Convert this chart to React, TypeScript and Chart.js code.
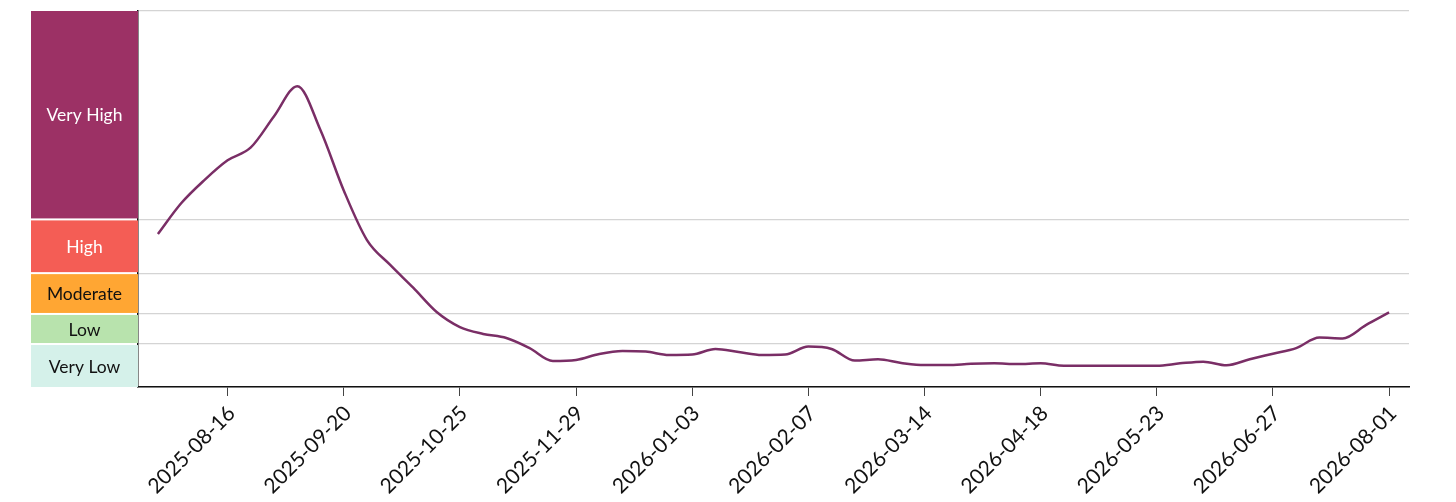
import React, { useEffect, useRef } from "react";
import { Chart, registerables } from "chart.js";

Chart.register(...registerables);

// ---- data ----
const DATES: string[] = [
  "2025-07-26", "2025-08-02", "2025-08-09", "2025-08-16", "2025-08-23", "2025-08-30",
  "2025-09-06", "2025-09-13", "2025-09-20", "2025-09-27", "2025-10-04", "2025-10-11",
  "2025-10-18", "2025-10-25", "2025-11-01", "2025-11-08", "2025-11-15", "2025-11-22",
  "2025-11-29", "2025-12-06", "2025-12-13", "2025-12-20", "2025-12-27", "2026-01-03",
  "2026-01-10", "2026-01-17", "2026-01-24", "2026-01-31", "2026-02-07", "2026-02-14",
  "2026-02-21", "2026-02-28", "2026-03-07", "2026-03-14", "2026-03-21", "2026-03-28",
  "2026-04-04", "2026-04-11", "2026-04-18", "2026-04-25", "2026-05-02", "2026-05-09",
  "2026-05-16", "2026-05-23", "2026-05-30", "2026-06-06", "2026-06-13", "2026-06-20",
  "2026-06-27", "2026-07-04", "2026-07-11", "2026-07-18", "2026-07-25", "2026-08-01",
];

const VALUES: number[] = [
  7.12, 8.55, 9.63, 10.55, 11.15, 12.6,
  14.0, 11.95, 9.15, 6.84, 5.68, 4.61,
  3.49, 2.79, 2.47, 2.28, 1.81, 1.21,
  1.26, 1.54, 1.68, 1.65, 1.49, 1.51,
  1.77, 1.63, 1.49, 1.51, 1.88, 1.77,
  1.23, 1.29, 1.12, 1.02, 1.02, 1.08,
  1.1, 1.07, 1.1, 0.99, 0.99, 0.99,
  0.99, 0.99, 1.1, 1.18, 1.01, 1.29,
  1.55, 1.81, 2.3, 2.26, 2.88, 3.47,
];

const TICK_LABELS: string[] = [
  "2025-08-16", "2025-09-20", "2025-10-25", "2025-11-29", "2026-01-03", "2026-02-07",
  "2026-03-14", "2026-04-18", "2026-05-23", "2026-06-27", "2026-08-01",
];

const LEVEL_LABELS: string[] = ["Very Low", "Low", "Moderate", "High", "Very High"];
const LEVEL_BOUNDS: number[] = [0, 2, 3.4, 5.3, 7.8, 17.5];

// ---- styles ----
const LEVEL_COLORS = ["#d5f1ea", "#b8e3ad", "#ffa633", "#f45d55", "#9c3165"];
const LEVEL_TEXT = ["#111111", "#111111", "#111111", "#ffffff", "#ffffff"];
const FONT = "Lato, 'Open Sans', sans-serif";

const dayNum = (s: string) => {
  const [y, m, d] = s.split("-").map(Number);
  return Date.UTC(y, m - 1, d) / 86400000;
};

const bandPlugin = {
  id: "levelBands",
  afterDraw(chart: any) {
    const ctx = chart.ctx;
    const y = chart.scales.y;
    const left = 23;
    const right = chart.chartArea.left;
    ctx.save();
    for (let i = 0; i < LEVEL_LABELS.length; i++) {
      const yb = y.getPixelForValue(LEVEL_BOUNDS[i]);
      const yt = y.getPixelForValue(LEVEL_BOUNDS[i + 1]);
      const top = i === LEVEL_LABELS.length - 1 ? yt : yt + 1;
      const bottom = i === 0 ? yb : yb - 1;
      ctx.fillStyle = LEVEL_COLORS[i];
      ctx.fillRect(left, top, right - left, bottom - top);
      ctx.fillStyle = LEVEL_TEXT[i];
      ctx.font = `17.5px ${FONT}`;
      ctx.textAlign = "center";
      ctx.textBaseline = "middle";
      ctx.fillText(LEVEL_LABELS[i], (left + right) / 2, (top + bottom) / 2 + 1);
    }
    ctx.restore();
  },
};

export default function App() {
  const ref = useRef<HTMLCanvasElement | null>(null);

  useEffect(() => {
    if (!ref.current) return;
    const xs = DATES.map(dayNum);
    const chart = new Chart(ref.current, {
      type: "line",
      data: {
        datasets: [
          {
            data: xs.map((x, i) => ({ x, y: VALUES[i] })),
            borderColor: "#7a2e66",
            borderWidth: 2.5,
            pointRadius: 0,
            cubicInterpolationMode: "monotone",
            fill: false,
          },
        ],
      },
      options: {
        animation: false,
        responsive: true,
        maintainAspectRatio: false,
        layout: { padding: { top: 3, right: 39, left: 0, bottom: 0 } },
        plugins: { legend: { display: false }, tooltip: { enabled: false } },
        scales: {
          x: {
            type: "linear",
            min: xs[0] - 6,
            max: xs[xs.length - 1] + 6,
            afterBuildTicks: (scale: any) => {
              scale.ticks = TICK_LABELS.map((t) => ({ value: dayNum(t) }));
            },
            afterFit: (scale: any) => {
              scale.height = 107;
            },
            ticks: {
              autoSkip: false,
              minRotation: 45,
              maxRotation: 45,
              color: "#111111",
              font: { family: FONT, size: 21 },
              padding: 5,
              labelOffset: 4,
              callback: (_v: any, i: number) => TICK_LABELS[i],
            },
            grid: {
              drawOnChartArea: false,
              drawTicks: true,
              tickLength: 9,
              color: "#444444",
            },
            border: { display: true, color: "#111111", width: 1.5 },
          },
          y: {
            type: "linear",
            min: LEVEL_BOUNDS[0],
            max: LEVEL_BOUNDS[LEVEL_BOUNDS.length - 1],
            afterBuildTicks: (scale: any) => {
              scale.ticks = LEVEL_BOUNDS.map((v) => ({ value: v }));
            },
            afterFit: (scale: any) => {
              scale.width = 130;
            },
            ticks: { display: false },
            grid: { color: "#d4d4d4", lineWidth: 1.2, drawTicks: false },
            border: { display: true, color: "#111111", width: 1.5 },
          },
        },
      },
      plugins: [bandPlugin],
    } as any);
    return () => chart.destroy();
  }, []);

  return (
    <div style={{ width: 1440, height: 486, position: "relative" }}>
      <canvas ref={ref} />
    </div>
  );
}
